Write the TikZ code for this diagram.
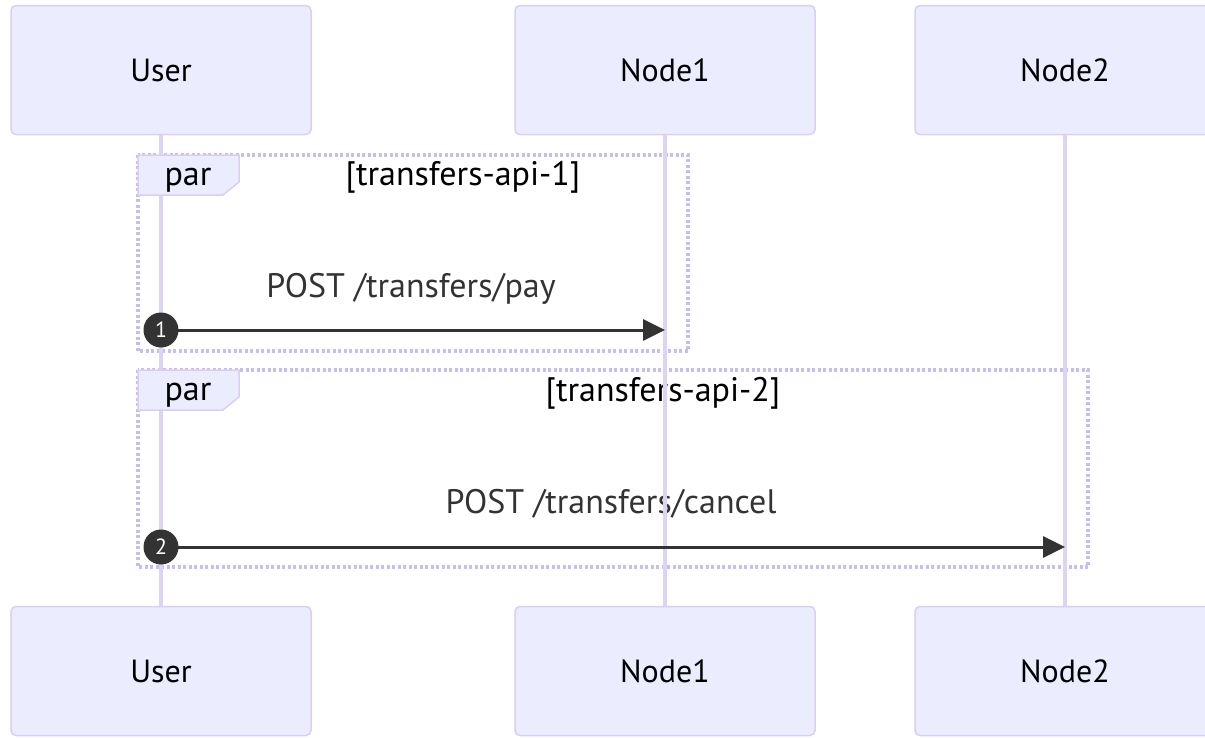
\documentclass[tikz,border=0pt]{standalone}
\usepackage{fontspec}
\setmainfont{PT Sans}
\usetikzlibrary{arrows.meta}
\definecolor{actfill}{HTML}{ECECFF}
\definecolor{actline}{HTML}{D9CFF3}
\definecolor{loopln}{HTML}{C9BDF0}
\definecolor{lifeln}{HTML}{DDD4F5}
\definecolor{msgcol}{HTML}{333333}
\tikzset{
  actor/.style={draw=actline, fill=actfill, line width=1.5pt, rounded corners=5pt,
    minimum width=300pt, minimum height=129pt, inner sep=0pt, font=\fontsize{32}{36}\selectfont},
  lifeline/.style={draw=lifeln, line width=3.5pt},
  loopbox/.style={draw=loopln, line width=3.5pt, dash pattern=on 3pt off 2.5pt},
  parbox/.style={draw=actline, fill=actfill, line width=1.5pt},
  looptitle/.style={font=\fontsize{34}{38}\selectfont, text=black},
  msglabel/.style={font=\fontsize{34}{38}\selectfont, text=msgcol},
  msg/.style={draw=msgcol, line width=3pt, -{Triangle[length=22pt,width=21pt]}},
  seqnum/.style={circle, fill=msgcol, minimum size=35pt, inner sep=0pt, text=white,
    font=\fontsize{22}{24}\selectfont},
}
\begin{document}
\begin{tikzpicture}[x=1pt,y=-1pt]
\useasboundingbox (0,0) rectangle (1205,737);
\clip (0,0) rectangle (1205,737);

% participants, top and bottom
\node[actor] (uTop)  at (161,70)  {User};
\node[actor] (n1Top) at (665,70)  {Node1};
\node[actor] (n2Top) at (1065,70) {Node2};
\node[actor] (uBot)  at (161,671) {User};
\node[actor] (n1Bot) at (665,671) {Node1};
\node[actor] (n2Bot) at (1065,671) {Node2};

% dotted frames of the par blocks
\draw[loopbox] (138,155) rectangle (688,351);
\draw[loopbox] (138,370) rectangle (1088,567);

% block titles and message labels
\node[looptitle] (t1) at (463,177) {[transfers-api-1]};
\node[looptitle] (t2) at (663,393) {[transfers-api-2]};
\node[msglabel] (l1) at (411,289) {POST /transfers/pay};
\node[msglabel] (l2) at (611,504) {POST /transfers/cancel};

% lifelines
\draw[lifeline] (uTop.south)  -- (uBot.north);
\draw[lifeline] (n1Top.south) -- (n1Bot.north);
\draw[lifeline] (n2Top.south) -- (n2Bot.north);

% "par" tabs
\draw[parbox] (138,155) -- (239,155) -- (239,182) -- (223,195) -- (138,195) -- cycle;
\node[looptitle] (par1) at (188,180) {par};
\draw[parbox] (138,370) -- (239,370) -- (239,397) -- (223,410) -- (138,410) -- cycle;
\node[looptitle] (par2) at (188,395) {par};

% messages
\coordinate (m1s) at (161,330);
\coordinate (m1e) at (665,330);
\coordinate (m2s) at (161,547);
\coordinate (m2e) at (1065,547);
\draw[msg] (m1s) -- (m1e);
\draw[msg] (m2s) -- (m2e);
\node[seqnum] (s1) at (m1s) {1};
\node[seqnum] (s2) at (m2s) {2};
\end{tikzpicture}
\end{document}
